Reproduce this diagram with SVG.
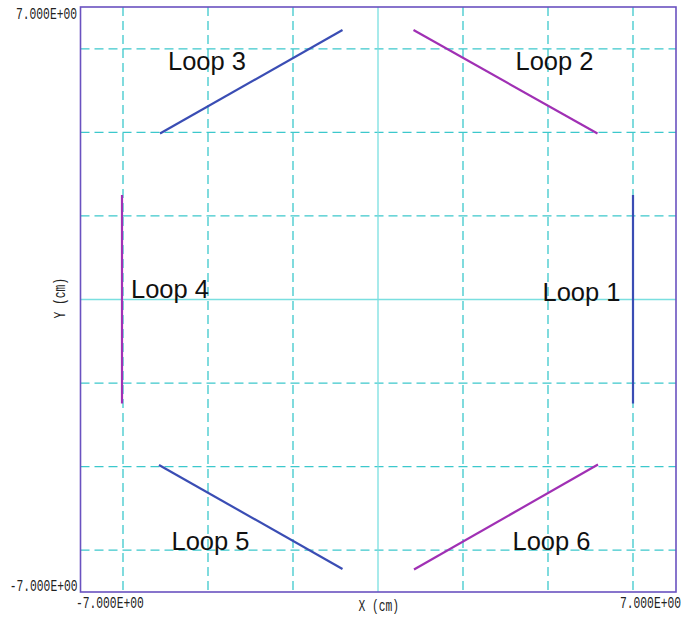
<svg xmlns="http://www.w3.org/2000/svg" width="683" height="618" viewBox="0 0 683 618">
<style>
.grid{stroke:#3cc8cc;stroke-width:1.3;stroke-dasharray:9 5;fill:none}
.axis0{stroke:#7adfe0;stroke-width:1.3;fill:none}
.frame{stroke:#6a52c0;stroke-width:1.6;fill:none}
.blue{stroke:#3a4db4;stroke-width:2.2;fill:none}
.mag{stroke:#a030b4;stroke-width:2.2;fill:none}
.lbl{font-family:"Liberation Sans",Arial,sans-serif;font-size:25.5px;fill:#111}
.tick{font-family:"Liberation Mono","Courier New",monospace;font-size:11.3px;fill:#222}
</style>
<rect width="683" height="618" fill="#ffffff"/>
<g id="grid">
<path class="grid" d="M123,7V592M208,7V592M293,7V592M463,7V592M548,7V592M633,7V592"/>
<path class="grid" d="M80.5,48.8H676M80.5,132.4H676M80.5,215.9H676M80.5,383.1H676M80.5,466.6H676M80.5,550.2H676"/>
<path class="axis0" d="M378,7V592M80.5,299.5H676"/>
<rect class="frame" x="80.5" y="7" width="595.5" height="585"/>
</g>
<g id="axis-labels">
<text class="tick" text-anchor="end" transform="translate(77,19) scale(1,1.4)">7.000E+00</text>
<text class="tick" text-anchor="end" transform="translate(77.5,590.5) scale(1,1.4)">-7.000E+00</text>
<text class="tick" transform="translate(76,608) scale(1,1.4)">-7.000E+00</text>
<text class="tick" text-anchor="end" transform="translate(681,608) scale(1,1.4)">7.000E+00</text>
<text class="tick" transform="translate(358.5,611) scale(1,1.4)">X (cm)</text>
<text class="tick" transform="translate(65,318.5) rotate(-90) scale(1,1.4)">Y (cm)</text>
</g>
<g id="connectors">
<line id="loop1-line" class="blue" x1="633" y1="195" x2="633" y2="403.5"/>
<line id="loop2-line" class="mag" x1="413.5" y1="30" x2="597.5" y2="133.5"/>
<line id="loop3-line" class="blue" x1="160" y1="133.5" x2="342.5" y2="30"/>
<line id="loop4-line" class="mag" x1="122" y1="195" x2="122" y2="403.5"/>
<line id="loop5-line" class="blue" x1="159" y1="465" x2="342.5" y2="569"/>
<line id="loop6-line" class="mag" x1="414" y1="569.5" x2="598" y2="464.5"/>
</g>
<g id="loop1"><text class="lbl" x="542.5" y="300.5">Loop 1</text></g>
<g id="loop2"><text class="lbl" x="515.5" y="70">Loop 2</text></g>
<g id="loop3"><text class="lbl" x="168" y="70">Loop 3</text></g>
<g id="loop4"><text class="lbl" x="131" y="298">Loop 4</text></g>
<g id="loop5"><text class="lbl" x="171.5" y="549.5">Loop 5</text></g>
<g id="loop6"><text class="lbl" x="512.5" y="549.5">Loop 6</text></g>
</svg>
